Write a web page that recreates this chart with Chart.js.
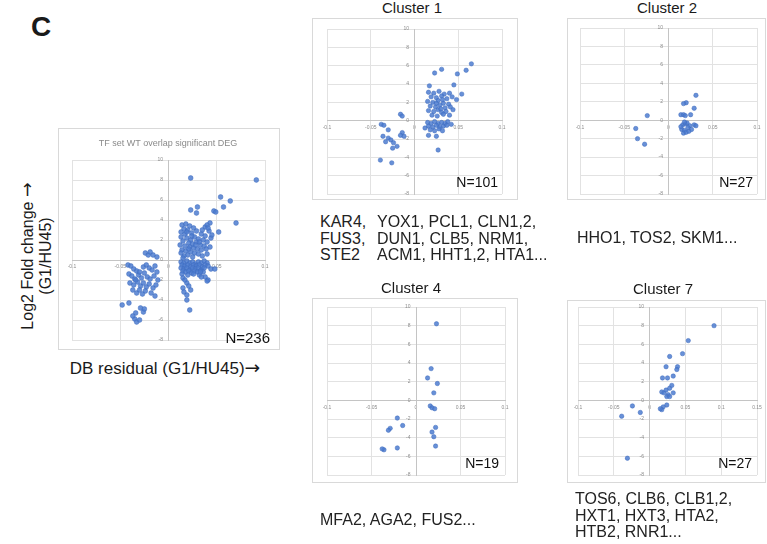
<!DOCTYPE html>
<html>
<head>
<meta charset="utf-8">
<script src="https://cdn.jsdelivr.net/npm/chart.js@4.4.1/dist/chart.umd.min.js"></script>
<style>
    body {
        margin: 0;
        width: 767px;
        height: 544px;
        position: relative;
        overflow: hidden;
        background: #fff;
        font-family: Arial, "Liberation Sans", Helvetica, sans-serif;
        color: #1a1a1a;
    }
    .frame { position: absolute; border: 1px solid #d9d9d9; box-sizing: border-box; }
    canvas { position: absolute; }
    .txt { position: absolute; white-space: nowrap; line-height: 1; }
    .mid { transform: translate(-50%, -50%); }
    .right { transform: translate(-100%, -50%); }
    .left { transform: translate(0, -50%); }
    .n { font-size: 14px; color: #111; }
    .genes { font-size: 16px; line-height: 16.7px; color: #222; }
    .arrow { font-family: "DejaVu Sans", sans-serif; font-size: 1.1em; line-height: 0; }
</style>
</head>
<body>

<!-- panel letter + axis titles -->
<div class="txt mid" style="left:41px;top:27px;font-size:28px;font-weight:bold;">C</div>
<div class="txt mid" style="left:36px;top:256px;font-size:16px;line-height:17.5px;text-align:center;transform:translate(-50%,-50%) rotate(-90deg);">Log2 Fold change <span class="arrow">&#8594;</span><br>(G1/HU45)</div>
<div class="txt mid" style="left:165px;top:368px;font-size:17px;">DB residual (G1/HU45)<span class="arrow">&#8594;</span></div>

<!-- main panel -->
<div class="frame" style="left:58px;top:128px;width:222px;height:222px;"></div>
<canvas id="mainChart" width="222" height="222" style="left:58px;top:128px;"></canvas>
<div class="txt mid" style="left:168px;top:143px;font-size:9px;color:#8a8a8a;">TF set WT overlap significant DEG</div>
<div class="txt right n" style="left:270px;top:337px;font-size:15px;">N=236</div>

<!-- cluster 1 -->
<div class="txt mid" style="left:412px;top:7px;font-size:15px;">Cluster 1</div>
<div class="frame" style="left:312px;top:18px;width:206px;height:182px;"></div>
<canvas id="cluster1" width="206" height="182" style="left:312px;top:18px;"></canvas>
<div class="txt right n" style="left:498px;top:182px;">N=101</div>
<div class="txt genes" style="left:320px;top:214px;">KAR4,<br>FUS3,<br>STE2</div>
<div class="txt genes" style="left:377px;top:214px;">YOX1, PCL1, CLN1,2,<br>DUN1, CLB5, NRM1,<br>ACM1, HHT1,2, HTA1...</div>

<!-- cluster 2 -->
<div class="txt mid" style="left:667px;top:7px;font-size:15px;">Cluster 2</div>
<div class="frame" style="left:567px;top:18px;width:199px;height:182px;"></div>
<canvas id="cluster2" width="199" height="182" style="left:567px;top:18px;"></canvas>
<div class="txt right n" style="left:753px;top:182px;">N=27</div>
<div class="txt left genes" style="left:577px;top:238px;">HHO1, TOS2, SKM1...</div>

<!-- cluster 4 -->
<div class="txt mid" style="left:411px;top:287px;font-size:15px;">Cluster 4</div>
<div class="frame" style="left:312px;top:298px;width:206px;height:185px;"></div>
<canvas id="cluster4" width="206" height="185" style="left:312px;top:298px;"></canvas>
<div class="txt right n" style="left:499px;top:463px;">N=19</div>
<div class="txt left genes" style="left:320px;top:520px;">MFA2, AGA2, FUS2...</div>

<!-- cluster 7 -->
<div class="txt mid" style="left:663px;top:288px;font-size:15px;">Cluster 7</div>
<div class="frame" style="left:567px;top:300px;width:199px;height:183px;"></div>
<canvas id="cluster7" width="199" height="183" style="left:567px;top:300px;"></canvas>
<div class="txt right n" style="left:752px;top:463px;">N=27</div>
<div class="txt genes" style="left:575px;top:491px;">TOS6, CLB6, CLB1,2,<br>HXT1, HXT3, HTA2,<br>HTB2, RNR1...</div>

<script>
// axis ticks
const xTicks = [-0.1, -0.05, 0, 0.05, 0.1];
const xTicksCluster7 = [-0.1, -0.05, 0, 0.05, 0.1, 0.15];
const yTicks = [-8, -6, -4, -2, 0, 2, 4, 6, 8, 10];

// [DB residual, log2 fold change]
const tfSetPoints = [
    [0.023, 8.2], [0.091, 8.0], [0.054, 6.3], [0.064, 5.9], [0.057, 5.3], [0.030, 5.3], [0.023, 5.0],
    [0.029, 4.7], [0.047, 4.9], [0.049, 4.8], [0.070, 3.7], [0.052, 2.8], [0.043, 3.7], [0.038, 3.3], [0.040, 3.5],
    [0.014, 3.5], [0.018, 3.6], [0.022, 3.4], [0.016, 3.1], [0.020, 3.0], [0.026, 3.2], [0.013, 2.8], [0.017, 2.6],
    [0.024, 2.7], [0.029, 2.9], [0.034, 2.6], [0.038, 2.4], [0.042, 2.9], [0.044, 2.2], [0.013, 2.3], [0.019, 2.2],
    [0.023, 2.0], [0.027, 2.3], [0.031, 2.1], [0.036, 2.0], [0.040, 1.8], [0.015, 1.9], [0.021, 1.7], [0.025, 1.6],
    [0.029, 1.8], [0.033, 1.5], [0.037, 1.4], [0.012, 1.5], [0.017, 1.4], [0.022, 1.3], [0.026, 1.2], [0.030, 1.1],
    [0.034, 1.0], [0.039, 1.1], [0.043, 1.3], [0.014, 1.0], [0.018, 0.9], [0.023, 0.8], [0.027, 0.7], [0.031, 0.6],
    [0.020, 0.5], [0.016, 0.4], [0.025, 0.3], [0.035, 0.4], [0.040, 0.6], [0.013, 0.7], [0.021, 1.1], [0.028, 1.5],
    [0.024, 2.4], [0.032, 1.8], [0.019, 2.8], [0.035, 3.0], [0.045, 2.5], [0.041, 3.2], [0.015, 0.2],
    [0.013, -0.2], [0.016, -0.3], [0.019, -0.1], [0.022, -0.3], [0.025, -0.2], [0.028, -0.4], [0.031, -0.2],
    [0.034, -0.3], [0.037, -0.1], [0.040, -0.3], [0.014, -0.5], [0.017, -0.6], [0.020, -0.5], [0.023, -0.7],
    [0.026, -0.5], [0.029, -0.6], [0.032, -0.5], [0.035, -0.7], [0.038, -0.5], [0.041, -0.6], [0.013, -0.8],
    [0.016, -0.9], [0.019, -0.8], [0.022, -1.0], [0.025, -0.8], [0.028, -0.9], [0.031, -0.8], [0.034, -1.0],
    [0.037, -0.8], [0.015, -1.1], [0.018, -1.2], [0.021, -1.1], [0.024, -1.3], [0.027, -1.1], [0.030, -1.2],
    [0.033, -1.1], [0.036, -1.2], [0.014, -1.4], [0.020, -1.5], [0.026, -1.4], [0.032, -1.5], [0.044, -0.9],
    [0.048, -0.9],
    [0.015, -1.8], [0.019, -2.3], [0.015, -2.8], [0.023, -3.0], [0.019, -3.5], [0.019, -4.0], [0.022, -5.0],
    [0.033, -1.2], [0.038, -1.7], [0.041, -2.0], [0.034, -1.7], [0.040, -2.1], [0.017, -2.0], [0.021, -2.6], [0.016, -3.2],
    [-0.024, 0.7], [-0.021, 0.5], [-0.016, 0.5], [-0.019, 0.8], [-0.012, 0.3],
    [-0.042, -0.5], [-0.039, -0.6], [-0.036, -0.9], [-0.033, -1.1], [-0.026, -0.7], [-0.023, -0.5], [-0.020, -0.8],
    [-0.017, -1.0], [-0.014, -0.6], [-0.012, -1.2], [-0.041, -1.4], [-0.038, -1.6], [-0.035, -1.9], [-0.031, -1.5],
    [-0.028, -1.8], [-0.025, -1.3], [-0.022, -1.7], [-0.019, -1.9], [-0.015, -1.6], [-0.011, -2.0], [-0.040, -2.3],
    [-0.036, -2.5], [-0.032, -2.2], [-0.029, -2.6], [-0.026, -2.3], [-0.023, -2.7], [-0.020, -2.4], [-0.016, -2.8],
    [-0.013, -2.5], [-0.037, -3.0], [-0.033, -3.3], [-0.030, -3.0], [-0.027, -3.4], [-0.024, -3.1], [-0.018, -3.3],
    [-0.014, -3.6], [-0.034, -2.0], [-0.030, -1.2],
    [-0.048, -4.5], [-0.041, -4.3], [-0.034, -5.3], [-0.029, -4.8], [-0.026, -5.2], [-0.025, -4.9], [-0.035, -5.9],
    [-0.033, -6.2], [-0.030, -6.0], [-0.037, -5.6]
];

const cluster1Points = [
    [0.065, 6.2], [0.059, 5.5], [0.049, 5.1], [0.031, 5.6], [0.023, 5.2], [0.045, 3.9], [0.054, 2.9], [0.017, 3.8],
    [0.048, 2.3], [0.016, 3.1], [0.022, 3.0], [0.028, 3.2], [0.034, 2.9], [0.040, 3.0], [0.019, 2.6], [0.025, 2.5],
    [0.031, 2.7], [0.037, 2.4], [0.043, 2.6], [0.015, 2.1], [0.021, 2.0], [0.027, 2.2], [0.033, 1.9], [0.039, 1.8],
    [0.018, 1.6], [0.024, 1.5], [0.029, 1.7], [0.035, 1.4], [0.041, 1.5], [0.016, 1.1], [0.022, 1.0], [0.027, 1.2],
    [0.031, 0.9], [0.036, 1.0], [0.020, 0.6], [0.026, 0.5], [0.033, 0.7], [0.040, 0.6], [0.044, 1.2], [0.030, 1.3],
    [0.025, 1.9], [0.032, 2.3],
    [0.015, -0.2], [0.019, -0.3], [0.023, -0.1], [0.027, -0.3], [0.031, -0.2], [0.035, -0.3], [0.038, -0.1],
    [0.016, -0.6], [0.021, -0.7], [0.025, -0.5], [0.029, -0.7], [0.033, -0.6], [0.037, -0.5], [0.018, -1.0],
    [0.023, -1.1], [0.028, -0.9], [0.032, -1.1], [0.012, -0.8], [0.016, -1.6], [0.025, -1.7], [0.027, -3.2], [0.042, -0.4],
    [-0.016, 0.7], [-0.014, 0.5], [-0.038, -0.4], [-0.035, -0.5], [-0.030, -1.0], [-0.036, -1.7], [-0.030, -1.9],
    [-0.027, -2.1], [-0.024, -2.4], [-0.014, -1.3], [-0.016, -1.6], [-0.012, -1.7], [-0.025, -3.0], [-0.039, -4.3],
    [-0.026, -4.6], [-0.020, -2.8], [-0.033, -2.3]
];

const cluster2Points = [
    [0.031, 2.7], [0.020, 1.9], [0.017, 1.8], [0.029, 1.3], [0.014, 0.6], [0.017, 0.6], [0.019, 0.5], [0.025, 0.6],
    [-0.024, 0.5], [-0.037, -0.9], [-0.035, -2.0], [-0.027, -2.6], [0.016, -0.5], [0.019, -0.4], [0.024, -0.6],
    [0.029, -0.5], [0.015, -1.0], [0.018, -1.1], [0.022, -0.8], [0.017, -1.4], [0.020, -1.3], [0.026, -1.0],
    [0.031, -0.6], [0.021, -0.3], [0.014, -0.7], [0.023, -1.2], [0.018, -0.2]
];

const cluster4Points = [
    [0.023, 8.2], [0.017, 3.4], [0.013, 2.4], [0.024, 1.8], [0.020, 0.8], [0.016, -0.6], [0.018, -0.8], [0.021, -0.9],
    [-0.021, -1.9], [-0.015, -2.7], [-0.029, -3.0], [-0.031, -3.2], [0.022, -2.9], [0.018, -3.4], [0.020, -3.9],
    [0.022, -4.9], [-0.021, -5.1], [-0.036, -5.3], [-0.038, -5.2]
];

const cluster7Points = [
    [0.090, 8.0], [0.054, 6.4], [0.046, 5.0], [0.028, 4.7], [0.023, 3.6], [0.039, 3.6], [0.038, 3.3], [0.033, 2.6],
    [0.018, 2.4], [0.025, 2.4], [0.017, 0.9], [0.020, 0.8], [0.023, 1.1], [0.028, 1.3], [0.033, 0.8], [0.026, 0.6],
    [0.024, 0.4], [0.028, 0.4], [0.031, 1.6], [0.024, -0.5], [0.019, -0.7], [0.017, -1.0], [0.015, -0.9],
    [-0.024, -0.6], [-0.013, -1.3], [-0.039, -1.7], [-0.031, -6.2]
];

// Excel-like scatter with axes crossing at zero
function drawScatter(id, points, xTickList, xMax, pad, radius) {
    const ctx = document.getElementById(id);
    if (!ctx) return;

    const tickFont = { family: 'Arial, "Liberation Sans", sans-serif', size: 5 };

    new Chart(ctx, {
        type: 'scatter',
        data: {
            datasets: [{
                data: points.map(p => ({ x: p[0], y: p[1] })),
                backgroundColor: 'rgba(78, 124, 208, 0.85)',
                borderColor: 'rgba(62, 106, 190, 0.85)',
                borderWidth: 0.6,
                pointRadius: radius
            }]
        },
        options: {
            responsive: false,
            animation: false,
            layout: { padding: pad },
            plugins: {
                legend: { display: false },
                tooltip: { enabled: false }
            },
            scales: {
                x: {
                    type: 'linear',
                    position: { y: 0 },
                    min: -0.1,
                    max: xMax,
                    afterFit: function (scale) { scale.height = 0; },
                    afterBuildTicks: function (scale) {
                        scale.ticks = xTickList.map(v => ({ value: v }));
                    },
                    ticks: {
                        font: tickFont,
                        color: '#8c8c8c',
                        padding: 2,
                        maxRotation: 0,
                        autoSkip: false,
                        callback: function (value) {
                            return String(Number(value.toFixed(2)));
                        }
                    },
                    grid: { color: '#e2e2e2', tickLength: 2 },
                    border: { color: '#c4c4c4' }
                },
                y: {
                    type: 'linear',
                    position: { x: 0 },
                    min: -8,
                    max: 10,
                    afterFit: function (scale) { scale.width = 0; },
                    afterBuildTicks: function (scale) {
                        scale.ticks = yTicks.map(v => ({ value: v }));
                    },
                    ticks: {
                        font: tickFont,
                        color: '#8c8c8c',
                        autoSkip: false,
                        callback: function (value) {
                            return value + '    ';
                        }
                    },
                    grid: { color: '#e2e2e2', tickLength: 2 },
                    border: { color: '#c4c4c4' }
                }
            }
        }
    });
}

document.addEventListener('DOMContentLoaded', function () {
    drawScatter('mainChart', tfSetPoints, xTicks, 0.1, { left: 14, right: 15, top: 32, bottom: 10 }, 2.4);
    drawScatter('cluster1', cluster1Points, xTicks, 0.1, { left: 15, right: 16, top: 11, bottom: 6 }, 2.2);
    drawScatter('cluster2', cluster2Points, xTicks, 0.1, { left: 13, right: 9, top: 10, bottom: 6 }, 2.2);
    drawScatter('cluster4', cluster4Points, xTicks, 0.1, { left: 15, right: 13, top: 9, bottom: 8 }, 2.2);
    drawScatter('cluster7', cluster7Points, xTicksCluster7, 0.15, { left: 11, right: 9, top: 7, bottom: 8 }, 2.2);
});
</script>
</body>
</html>
